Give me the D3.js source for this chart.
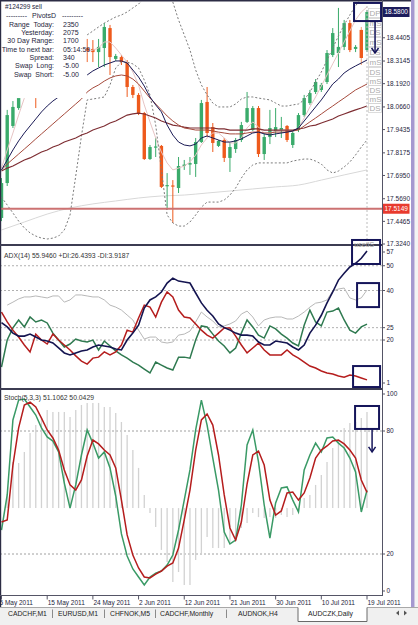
<!DOCTYPE html>
<html><head><meta charset="utf-8">
<script src="https://cdn.jsdelivr.net/npm/d3@7/dist/d3.min.js"></script>
<style>
html,body{margin:0;padding:0;background:#fff;overflow:hidden}
svg{display:block;font-family:"Liberation Sans",Arial,Helvetica,sans-serif}
</style></head><body>
<svg id="chart" width="418" height="625"></svg>
<script>
// ================= DATA =================
const N = null;
const dateIdx = [0,8,16,24,32,40,48,56,64];
const dateLabels = ["5 May 2011","15 May 2011","24 May 2011","2 Jun 2011","12 Jun 2011","21 Jun 2011","30 Jun 2011","10 Jul 2011","19 Jul 2011"];

const open = [17.465,17.654,17.963,18.060,N,N,18.185,N,N,N, N,N,N,N,N,18.385,18.380,18.363,18.385,18.493,
 18.326,18.336,18.309,18.174,18.131,18.033,17.784,17.846,17.855,17.638,
 17.641,17.627,17.746,17.754,17.757,17.876,18.093,17.957,17.855,17.887,
 17.790,17.838,17.887,17.985,17.941,18.060,17.811,17.903,17.936,17.941,
 17.963,17.860,17.941,18.022,18.087,18.147,18.158,18.201,18.347,18.358,
 18.391,18.520,18.380,18.483,18.374];
const high = [17.681,18.050,18.098,18.185,N,N,18.212,N,N,N, N,N,N,N,N,18.434,18.428,18.434,18.520,18.510,
 18.353,18.347,18.320,18.185,18.141,18.039,17.860,17.898,17.860,17.708,
 17.670,17.795,17.779,17.795,17.898,18.104,18.174,17.979,17.887,17.898,
 17.871,17.898,17.985,18.147,18.071,18.071,17.925,18.050,18.060,18.012,
 17.968,17.936,18.033,18.131,18.158,18.217,18.196,18.374,18.493,18.602,
 18.537,18.537,18.401,18.499,18.591];
const low = [17.448,17.638,17.952,18.050,N,N,18.060,N,N,N, N,N,N,N,N,18.309,18.309,18.282,18.282,18.239,
 18.315,18.293,18.120,18.114,18.022,17.779,17.779,17.795,17.627,17.508,
 17.438,17.600,17.725,17.698,17.687,17.871,17.903,17.822,17.849,17.768,
 17.714,17.817,17.876,17.979,17.936,17.795,17.779,17.865,17.903,17.898,
 17.876,17.844,17.930,18.012,18.077,18.136,18.147,18.190,18.336,18.282,
 18.374,18.363,18.363,18.293,18.363];
const close = [17.654,18.022,18.066,18.158,N,N,18.152,N,N,N, N,N,N,N,N,18.369,18.363,18.391,18.499,18.336,
 18.342,18.309,18.174,18.131,18.033,17.784,17.849,17.852,17.633,17.643,
 17.635,17.746,17.754,17.762,17.876,18.087,17.925,17.871,17.882,17.790,
 17.849,17.887,17.968,18.060,18.060,17.811,17.903,17.952,17.957,17.952,
 17.887,17.925,18.022,18.114,18.141,18.201,18.185,18.358,18.466,18.391,
 18.520,18.374,18.391,18.331,18.580];

const maNavy = [17.725,17.779,17.833,17.882,17.925,17.963,18.001,18.039,18.071,18.098,
 18.120,N,N,N,N,18.239,18.261,18.277,18.293,18.304,
 18.315,18.315,18.304,18.266,18.228,18.179,18.120,18.077,18.039,17.968,
 17.914,17.876,17.860,17.855,17.865,17.898,17.909,17.898,17.887,17.876,
 17.876,17.882,17.893,17.909,17.925,17.930,17.920,17.914,17.920,17.925,
 17.930,17.936,17.952,17.990,18.028,18.066,18.104,18.147,18.190,18.217,
 18.250,18.271,18.288,18.304,18.320];
const maBrown = [17.725,17.757,17.784,17.811,17.838,17.865,17.893,17.920,17.947,17.974,
 18.001,18.028,18.055,18.082,18.109,18.147,18.169,18.185,18.206,18.223,
 18.234,18.239,18.234,18.217,18.190,18.152,18.114,18.082,18.050,18.017,
 17.990,17.968,17.952,17.947,17.941,17.941,17.941,17.936,17.930,17.925,
 17.920,17.920,17.920,17.925,17.930,17.930,17.925,17.925,17.930,17.930,
 17.930,17.936,17.941,17.963,17.985,18.006,18.028,18.050,18.071,18.093,
 18.114,18.136,18.158,18.174,18.190];
const maMaroon = [17.719,17.735,17.746,17.763,17.779,17.790,17.806,17.822,17.833,17.849,
 17.860,17.876,17.887,17.898,17.914,17.925,17.941,17.952,17.963,17.979,
 17.990,18.006,18.022,18.028,18.033,18.028,18.017,18.006,17.990,17.979,
 17.968,17.963,17.957,17.952,17.952,17.952,17.952,17.952,17.947,17.947,
 17.941,17.941,17.941,17.941,17.947,17.947,17.941,17.941,17.941,17.941,
 17.941,17.941,17.947,17.952,17.963,17.968,17.979,17.990,18.001,18.017,
 18.028,18.039,18.050,18.060,18.071];
const maFast = [17.735,17.833,17.925,18.022,18.114,N,N,N,N,N,
 N,N,N,N,N,18.363,18.374,18.385,18.418,18.418,
 18.385,18.347,18.309,18.255,18.185,18.077,17.985,17.898,17.822,17.763,
 17.725,17.735,17.746,17.768,17.806,17.860,17.898,17.925,17.925,17.898,
 17.871,17.871,17.898,17.952,17.985,17.957,17.925,17.925,17.936,17.941,
 17.941,17.936,17.952,18.006,18.066,18.120,18.179,18.239,18.299,18.358,
 18.418,18.477,18.537,18.580,18.607];
const longMaIdx = [0,4,8,12,16,20,24,28,32,36,40,44,48,52,56,60,64];
const longMa = [17.400,17.443,17.486,17.519,17.541,17.557,17.573,17.584,17.589,17.600,17.611,17.622,17.633,17.643,17.670,17.698,17.725];
const bbUpper = [N,N,N,N,N,N,N,N,N,N,N,N,N,N,N,
 18.456,18.477,18.499,18.520,18.537,
 18.553,18.564,18.580,18.602,18.623,18.656,18.688,18.699,18.688,18.667,
 18.634,18.537,18.456,18.374,18.266,18.185,18.131,18.087,18.066,18.066,
 18.066,18.082,18.109,18.120,18.120,18.114,18.109,18.104,18.087,18.071,
 18.071,18.077,18.082,18.104,18.147,18.201,18.255,18.320,18.385,18.450,
 18.510,18.564,18.613,18.656,18.699];
const bbLower = [17.578,17.535,17.492,17.448,17.411,17.384,17.367,17.356,17.351,17.356,
 17.367,17.400,17.481,17.692,17.909,18.104,18.109,18.114,18.120,18.185,
 18.277,18.309,18.309,18.299,18.277,18.212,18.131,17.968,17.725,17.481,
 17.438,17.421,17.421,17.443,17.481,17.524,17.551,17.551,17.551,17.562,
 17.589,17.627,17.681,17.725,17.752,17.763,17.763,17.763,17.763,17.763,
 17.763,17.773,17.779,17.784,17.784,17.773,17.757,17.725,17.708,17.719,
 17.741,17.768,17.806,17.849,17.887];

const priceTicks = [18.5800,18.4405,18.3145,18.1920,18.0660,17.9435,17.8175,17.6950,17.5690,17.4465,17.3240];
const currentPrice = 18.5800;
const orderPrice = 17.5149;
const pivotNames = ["DP","mS","DS","mS","DS","mS","DS","mS","DS","mS","DS"];
const pivotPrices = [18.575,18.520,18.472,18.418,18.363,18.309,18.255,18.206,18.158,18.109,18.060];

const adx = [27,25.3,22.8,21.6,21.6,22.4,21.2,20,19.6,18.8,
 16.8,14.8,14,14.8,15.6,16,17.2,18,17.6,17.2,
 16.4,16,20,22.8,26,32.9,36.2,37.4,39.4,43,
 45,43.8,43.4,43,39,35,32,29.7,26.5,25,
 24,22.8,22,22,21.6,19.2,18,18,19.6,19.2,
 18.8,17.2,16,18,22.8,26,30,35,39.4,44.2,
 47,49.5,51,53,55.95];
const plusDI = [9.1,20,24.9,28.1,25.3,29.3,27.3,28.1,26.9,22.8,
 20,17.2,18.4,20.4,19.6,19.2,20,16,19.6,17.6,
 15.6,14,12.7,11.1,9.9,8.3,6.7,11.1,9.9,8.7,
 7.9,13.1,13.1,12.7,20,25.7,25.3,22.4,19.6,17.6,
 14.8,16.8,22.8,28.1,25.3,22,20.8,25.7,24.5,22.4,
 20.8,18.8,17.6,26,32.1,27.3,25.7,31.3,31.7,32.9,
 28.1,24,22.8,25.3,26.44];
const minusDI = [31.3,27.3,24,21.2,18,15.2,22.4,20,18.4,22.4,
 20,18,16,13.6,11.5,10.3,12.7,13.1,15.2,14,
 15.2,18,24,23.2,28.9,34.1,33.3,29.3,35.3,39.4,
 37.4,32.1,29.3,28.9,26.5,24,22,20.8,22.8,24.9,
 24.9,21.6,18,14.8,16.8,18.8,16,14,14,14,
 16,14,12.7,11.1,9.5,8.7,7.5,6.7,6.3,5.5,
 5,5.9,5.5,4.7,3.92];
const adxGray = [N,34.1,35.3,36.6,37.4,37.4,37.8,37.4,37,37.8,
 37.8,35.3,36.2,38.2,38.2,37.8,37.4,37.4,36.2,34.1,
 33.3,32.1,30.1,28.1,24,20.4,21.2,21.2,19.2,18.8,
 19.2,22,22.4,23.6,27.3,31.3,29.3,27.7,25.3,25.7,
 26.5,27.7,30.5,31.7,29.3,25.7,28.1,28.9,29.3,29.3,
 28.5,28.5,29.7,31.3,33.3,34.9,35.3,36.2,39.8,40.6,
 41,37,36.2,37,40.2];
const adxTicks = [57,50,40,25,20,1];
const adxLevels = [50,40,25,20];

const stochK = [31.7,48.8,85.4,95.1,95.6,91.7,87.8,81.5,77.1,75.1,
 69.8,54.6,42.4,53.7,68.3,80.5,74.1,66.8,69.8,62,
 48.3,29.8,19,12.7,8.8,4.9,8.8,10.7,11.7,14.6,
 19.5,31.7,46.3,61,80.5,95.1,82.9,66.8,51.2,30.7,
 24.9,26.8,43.9,73.2,80.5,64.9,43.9,27.8,44.9,52.2,
 52.7,46.3,40.5,61,68.3,74.1,69.8,76.6,77.1,74.1,
 71.7,66.8,60,40.5,51.11];
const stochD = [35.6,36.6,63.4,81.5,92.7,94.1,91.7,86.3,80.5,76.6,
 70.7,61,53.7,51.2,56.1,67.8,75.6,73.7,70.7,68.3,
 62,46.3,29.3,19.5,13.2,8.8,8.3,10.2,11.7,14.1,
 15.6,22.9,36.6,51.2,70.7,85.4,88.3,82.9,68.3,48.8,
 32.7,26.8,35.6,54.1,68.3,70.2,63.4,46.3,39,41,
 49.8,50.2,46.3,49.8,57.1,66.8,70.7,72.7,75.1,75.6,
 73.7,70.7,66.8,56.1,50.04];
const histo = [0,6.4,22.5,22,27.4,36.6,40.5,43.9,47.8,46.9,
 46.9,46.9,44.4,47.8,50.3,51.3,51.3,51.3,49.3,49.3,
 46.4,42,35.6,28.3,19.6,6.4,-2.4,-9.2,-20.4,-26.3,
 -36.1,-31.2,-37.5,-37.5,-25.3,-21.9,-14.1,-19.5,-19.5,-19.5,
 -16.5,-14.1,-9.7,-7.3,-2.4,-4.4,-4.8,-4.4,-4.8,-3.4,
 -4.4,-3.4,-2,4.9,6.4,11.3,16.1,22.5,29.3,33.2,
 39.1,41.5,42,43.9,46.9];
const stochTicks = [100,80,20,0];
const stochLevels = [80,20];

const infoHeader = "#124299 sell";
const infoLabels = ["Range  Today:","Yesterday:","30 Day Range:","Time to next bar:","Spread:","Swap  Long:","Swap  Short:"];
const infoValues = ["2350","2075","1700","05:14:59","340","-5.00","-5.00"];
const adxTitle = "ADX(14) 55.9460 +DI:26.4393 -DI:3.9187";
const stochTitle = "Stoch(5,3,3) 51.1062 50.0429";
const tabs = ["CADCHF,M1","EURUSD,M1","CHFNOK,M5","CADCHF,Monthly","AUDNOK,H4","AUDCZK,Daily"];

// ================= SCALES =================
const xS = d3.scaleLinear().domain([0,64]).range([1.5,367]);
const yP = d3.scaleLinear().domain([17.3240,18.5800]).range([244,12]);
const yA = d3.scaleLinear().domain([1,57]).range([387.1,248.4]);
const yS = d3.scaleLinear().domain([0,100]).range([595,390]);
const yH = d3.scaleLinear().domain([-42.4,57.6]).range([595,390]);

const svg = d3.select('#chart');
const defs = svg.append('defs');
[['cp',1,1.5,381,242.5],['ca',1,246,381,142],['cs',1,390,381,205]].forEach(([id,x,y,w,h])=>
  defs.append('clipPath').attr('id',id).append('rect').attr('x',x).attr('y',y).attr('width',w).attr('height',h));

svg.append('rect').attr('width',418).attr('height',625).attr('fill','#ffffff');
svg.append('rect').attr('x',414.5).attr('y',0).attr('width',3.5).attr('height',607).attr('fill','#f3f3f3');
svg.append('rect').attr('x',411).attr('y',0).attr('width',3.5).attr('height',607).attr('fill','#a598d0');

const TXT = '#1e1e3c';
const NAVY = '#15155a';

// ================= PRICE PANEL =================
const gP = svg.append('g').attr('clip-path','url(#cp)');
const lineP = d3.line().defined(d=>d!=null).x((d,i)=>xS(i)).y(d=>yP(d));

gP.append('path').datum(longMa)
  .attr('d', d3.line().x((d,k)=>xS(longMaIdx[k])).y(d=>yP(d)).curve(d3.curveMonotoneX))
  .attr('fill','none').attr('stroke','#d8d8d8').attr('stroke-width',1);

open.forEach((o,i)=>{
  if(o==null) return;
  const c = close[i], bull = c >= o;
  const col = bull ? '#3aab6b' : '#ee5a1c';
  gP.append('line').attr('x1',xS(i)).attr('x2',xS(i)).attr('y1',yP(high[i])).attr('y2',yP(low[i]))
    .attr('stroke', bull ? '#3aab6b' : (i===63 ? '#f4a070' : '#ee5a1c')).attr('stroke-width',1);
  const y1 = yP(Math.max(o,c)), y2 = yP(Math.min(o,c));
  gP.append('rect').attr('x',xS(i)-1.7).attr('width',3.4)
    .attr('y',y1).attr('height',Math.max(1.2,y2-y1)).attr('fill',col);
});

gP.append('path').datum(maFast).attr('d',lineP).attr('fill','none').attr('stroke','#e6c4c4').attr('stroke-width',1);
[bbUpper,bbLower].forEach(a=>gP.append('path').datum(a).attr('d',lineP).attr('fill','none')
  .attr('stroke','#7a7a7a').attr('stroke-width',1).attr('stroke-dasharray','2,2'));
gP.append('path').datum(maMaroon).attr('d',lineP).attr('fill','none').attr('stroke','#7e2e33').attr('stroke-width',1.2);
gP.append('path').datum(maBrown).attr('d',lineP).attr('fill','none').attr('stroke','#a54a3c').attr('stroke-width',1);
gP.append('path').datum(maNavy).attr('d',lineP).attr('fill','none').attr('stroke','#1a1a55').attr('stroke-width',1);

gP.append('line').attr('x1',0).attr('x2',382).attr('y1',yP(orderPrice)).attr('y2',yP(orderPrice))
  .attr('stroke','#cc7272').attr('stroke-width',2);
gP.append('line').attr('x1',xS(64)).attr('x2',xS(64)).attr('y1',2).attr('y2',244)
  .attr('stroke','#bcbcbc').attr('stroke-dasharray','2,2');

pivotPrices.forEach((p,k)=>{
  const y = yP(p);
  gP.append('rect').attr('x',xS(64)+1.5).attr('y',y-4.5).attr('width',13).attr('height',9)
    .attr('fill','none').attr('stroke','#d4d4d4').attr('stroke-width',0.8);
  gP.append('text').attr('x',xS(64)+2.5).attr('y',y).attr('dy','0.35em')
    .attr('font-size',8).attr('fill','#aaaaaa').text(pivotNames[k]);
});

// label background object covering part of the chart
svg.append('rect').attr('x',xS(2.35)).attr('y',2).attr('width',xS(14.85)-xS(2.35))
  .attr('height',yP(18.114)-2).attr('fill','#ffffff');

const gI = svg.append('g').attr('fill',TXT);
gI.append('text').attr('x',5).attr('y',9).attr('font-size',6.5).text(infoHeader);
gI.append('text').attr('x',6).attr('y',18).attr('font-size',7).text('---------');
gI.append('text').attr('x',32).attr('y',18).attr('font-size',7).text('PivotsD');
gI.append('text').attr('x',62).attr('y',18).attr('font-size',7).text('---------');
infoLabels.forEach((t,k)=>{
  const y = 26.7 + k*8.33;
  gI.append('text').attr('x',54).attr('y',y).attr('text-anchor','end').attr('font-size',7)
    .style('white-space','pre').text(t);
  gI.append('text').attr('x',63).attr('y',y).attr('font-size',7).text(infoValues[k]);
});

// ================= ADX PANEL =================
const gA = svg.append('g').attr('clip-path','url(#ca)');
const lineA = d3.line().defined(d=>d!=null).x((d,i)=>xS(i)).y(d=>yA(d));
adxLevels.forEach(v=>gA.append('line').attr('x1',0).attr('x2',382).attr('y1',yA(v)).attr('y2',yA(v))
  .attr('stroke','#b0b0b0').attr('stroke-dasharray','2,2'));
gA.append('path').datum(adxGray).attr('d',lineA).attr('fill','none').attr('stroke','#b8b8b8').attr('stroke-width',1);
gA.append('path').datum(plusDI).attr('d',lineA).attr('fill','none').attr('stroke','#2f7a50').attr('stroke-width',1.5);
gA.append('path').datum(minusDI).attr('d',lineA).attr('fill','none').attr('stroke','#b51d1d').attr('stroke-width',1.5);
gA.append('path').datum(adx).attr('d',lineA).attr('fill','none').attr('stroke','#141450').attr('stroke-width',1.6);
svg.append('text').attr('x',4).attr('y',257.5).attr('font-size',6.8).attr('fill','#333').text(adxTitle);

// ================= STOCH PANEL =================
const gS = svg.append('g').attr('clip-path','url(#cs)');
const lineS = d3.line().x((d,i)=>xS(i)).y(d=>yS(d));
stochLevels.forEach(v=>gS.append('line').attr('x1',0).attr('x2',382).attr('y1',yS(v)).attr('y2',yS(v))
  .attr('stroke','#a0a0a0').attr('stroke-dasharray','2,2'));
histo.forEach((h,i)=>{
  if(h===0) return;
  gS.append('line').attr('x1',xS(i)).attr('x2',xS(i)).attr('y1',yH(0)).attr('y2',yH(h))
    .attr('stroke','#d2d2d2').attr('stroke-width',1.3);
});
gS.append('path').datum(stochK).attr('d',lineS).attr('fill','none').attr('stroke','#3a9a66').attr('stroke-width',1.5);
gS.append('path').datum(stochD).attr('d',lineS).attr('fill','none').attr('stroke','#b51d1d').attr('stroke-width',1.5);
svg.append('text').attr('x',4).attr('y',399.5).attr('font-size',6.8).attr('fill','#333').text(stochTitle);

// ================= FRAME & AXES =================
svg.append('line').attr('x1',0).attr('x2',411).attr('y1',0.75).attr('y2',0.75).attr('stroke','#2c2c44').attr('stroke-width',1.5);
svg.append('line').attr('x1',0.6).attr('x2',0.6).attr('y1',0).attr('y2',607).attr('stroke','#2c2c44').attr('stroke-width',1.2);
svg.append('line').attr('x1',0).attr('x2',382).attr('y1',245).attr('y2',245).attr('stroke','#3c3c52').attr('stroke-width',2);
svg.append('line').attr('x1',0).attr('x2',382).attr('y1',389).attr('y2',389).attr('stroke','#3c3c52').attr('stroke-width',2);
svg.append('line').attr('x1',0).attr('x2',382.5).attr('y1',595.5).attr('y2',595.5).attr('stroke','#555566').attr('stroke-width',1);
svg.append('line').attr('x1',382.5).attr('x2',382.5).attr('y1',0).attr('y2',596).attr('stroke','#555566').attr('stroke-width',1);

const axT = svg.append('g').attr('fill',TXT).attr('font-size',6.5);
function tick(y){ svg.append('line').attr('x1',382.5).attr('x2',385).attr('y1',y).attr('y2',y).attr('stroke','#555566'); }
priceTicks.forEach(p=>{ const y=yP(p); tick(y);
  if (p === currentPrice) return; // covered by the current-price marker
  axT.append('text').attr('x',386.5).attr('y',y).attr('dy','0.35em').text(p.toFixed(4)); });
adxTicks.forEach(v=>{ const y=Math.max(252,Math.min(383,yA(v))); tick(y);
  axT.append('text').attr('x',386.5).attr('y',y).attr('dy','0.35em').text(v); });
stochTicks.forEach(v=>{ const y=Math.max(394,Math.min(591,yS(v))); tick(y);
  axT.append('text').attr('x',386.5).attr('y',y).attr('dy','0.35em').text(v); });

[[currentPrice,'#1c1c5c'],[orderPrice,'#e83a2e']].forEach(([p,c])=>{
  const y=yP(p);
  svg.append('rect').attr('x',383).attr('y',y-5).attr('width',26.5).attr('height',10).attr('fill',c);
  svg.append('text').attr('x',396.2).attr('y',y).attr('dy','0.35em').attr('text-anchor','middle')
    .attr('font-size',6.5).attr('fill','#fff').text(p.toFixed(4));
});

dateIdx.forEach((i,k)=>{
  const x = xS(i);
  svg.append('line').attr('x1',x).attr('x2',x).attr('y1',595.5).attr('y2',599.5).attr('stroke','#555566');
  svg.append('text').attr('x', k===0 ? x-2 : x+0.5).attr('y',604.5).attr('font-size',6.5).attr('fill',TXT).text(dateLabels[k]);
});

// ================= ANNOTATIONS =================
function box(x0,x1,y0,y1){ svg.append('rect').attr('x',x0).attr('y',y0).attr('width',x1-x0).attr('height',y1-y0)
  .attr('fill','none').attr('stroke',NAVY).attr('stroke-width',2); }
function arrow(x,y0,y1){
  svg.append('line').attr('x1',x).attr('x2',x).attr('y1',y0).attr('y2',y1).attr('stroke',NAVY).attr('stroke-width',1.5);
  svg.append('path').attr('d',`M${x-3.5},${y1-5}L${x},${y1}L${x+3.5},${y1-5}`).attr('fill','none').attr('stroke',NAVY).attr('stroke-width',1.5);
}
box(xS(61.73),xS(66.46),yP(18.629),yP(18.531));
arrow(xS(65.41),yP(18.531),yP(18.358));
svg.append('text').attr('x',xS(61.6)+1).attr('y',yA(57.6)).attr('font-size',7).attr('fill','#9a9a9a').text('usedS');
box(xS(61.38),xS(66.29),yA(60.4),yA(50.7));
box(xS(62.26),xS(66.11),yA(43.0),yA(33.3));
box(xS(61.56),xS(66.29),yA(9.5),yA(1.03));
box(xS(61.91),xS(66.11),yS(92.2),yS(81.0));
arrow(xS(64.89),yS(81.0),yS(69.8));

// ================= TABS =================
svg.append('rect').attr('x',0).attr('y',607).attr('width',418).attr('height',18).attr('fill','#f0f0f0');
svg.append('line').attr('x1',0).attr('x2',418).attr('y1',607.5).attr('y2',607.5).attr('stroke','#a8a8a8');
svg.append('path').attr('d','M298,607.5V621.5H367V607.5').attr('fill','#ffffff').attr('stroke','#6a6a6a');
svg.append('line').attr('x1',298.5).attr('x2',366.5).attr('y1',607.5).attr('y2',607.5).attr('stroke','#ffffff');
const tabX = [8,58,110,160,238,308];
const tabNodes = tabs.map((t,k)=>svg.append('text').attr('x',tabX[k]).attr('y',615.8).attr('font-size',6.8).attr('fill','#222').text(t));
for (let k=0;k<4;k++){
  const end = tabX[k] + tabNodes[k].node().getComputedTextLength();
  const sx = Math.round((end + tabX[k+1]) / 2) + 0.5;
  svg.append('line').attr('x1',sx).attr('x2',sx).attr('y1',609.5).attr('y2',618).attr('stroke','#8a8a8a');
}
svg.append('path').attr('d','M396,613L399,610.5V615.5Z').attr('fill','#555');
svg.append('path').attr('d','M407,613L404,610.5V615.5Z').attr('fill','#555');
</script>
</body></html>
